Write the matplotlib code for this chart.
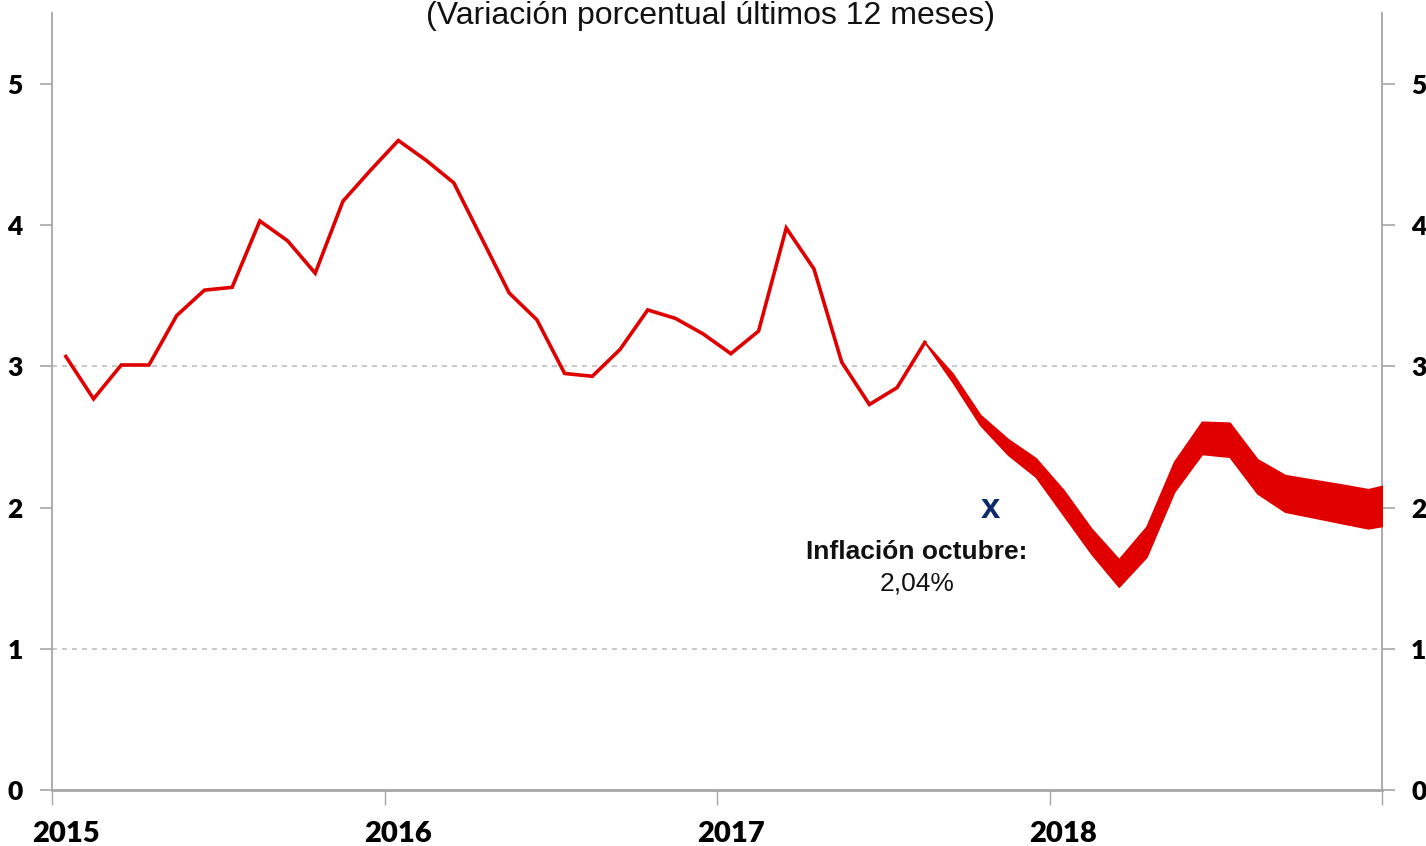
import matplotlib
matplotlib.use("Agg")
import matplotlib.pyplot as plt
import numpy as np

# ---- data ----
title = "(Variación porcentual últimos 12 meses)"
year_labels = ["2015", "2016", "2017", "2018"]
year_ticks = [2015, 2016, 2017, 2018, 2019]
y_ticks = [0, 1, 2, 3, 4, 5]

# observed inflation, Jan 2015 .. Aug 2017 (12-month % change)
hist_values = [3.07, 2.77, 3.01, 3.01, 3.36, 3.54, 3.56, 4.03, 3.89, 3.66, 4.17, 4.39,
               4.60, 4.46, 4.30, 3.91, 3.52, 3.33, 2.95, 2.93, 3.12, 3.40, 3.34, 3.23,
               3.09, 3.25, 3.98, 3.69, 3.03, 2.73, 2.85, 3.17]
# projection band, Aug 2017 .. Jan 2019
band_upper = [3.17, 2.95, 2.656, 2.485, 2.35, 2.125, 1.853, 1.634, 1.865, 2.325, 2.608, 2.601,
              2.342, 2.23, 2.197, 2.165, 2.13, 2.176]
band_lower = [3.17, 2.89, 2.585, 2.375, 2.219, 1.948, 1.676, 1.44, 1.652, 2.113, 2.38, 2.36,
              2.101, 1.971, 1.932, 1.892, 1.853, 1.887]

annot_title = "Inflación octubre:"
annot_value = "2,04%"

# ---- positions (mid-month) ----
hist_x = 2015 + (np.arange(len(hist_values)) + 0.5) / 12
band_x = 2015 + (np.arange(len(hist_values) - 1, len(hist_values) - 1 + len(band_upper)) + 0.5) / 12

RED = "#E00000"
GREY = "#A6A6A6"

fig = plt.figure(figsize=(14.26, 8.46), dpi=100)
W, H = 1426, 846
ax = fig.add_axes([52 / W, (H - 790) / H, 1330 / W, (790 - 13.4) / H])

ax.plot(hist_x, hist_values, color=RED, lw=2.6, solid_joinstyle="miter", zorder=3)
ax.fill_between(band_x, band_lower, band_upper, facecolor=RED, edgecolor=RED, lw=1.2, zorder=3)

ax.set_xlim(2015, 2019)
ax.set_ylim(0, 5.5)

# grid lines at 1 and 3
for g in (1, 3):
    ax.axhline(g, color="#BFBFBF", lw=1.2, ls=(0, (3, 3)), zorder=1)

ax.spines["top"].set_visible(False)
for s in ("left", "right"):
    ax.spines[s].set_color(GREY)
    ax.spines[s].set_linewidth(1.3)
ax.spines["bottom"].set_color(GREY)
ax.spines["bottom"].set_linewidth(2.0)

ax.set_yticks(y_ticks)
ax.set_yticklabels([str(v) for v in y_ticks])
ax.tick_params(axis="y", which="major", left=True, right=True, labelleft=True, labelright=True,
               direction="out", length=9, width=1.2, color=GREY, pad=12,
               labelsize=19)
for lab in ax.get_yticklabels():
    lab.set_fontfamily("Lato")
    lab.set_fontweight("heavy")

ax.set_xticks(year_ticks)
ax.set_xticklabels([])
ax.tick_params(axis="x", which="major", direction="out", length=11, width=1.0, color=GREY)
ax.set_xticks([y + 0.5 / 12 for y in year_ticks[:-1]], minor=True)
ax.set_xticklabels(year_labels, minor=True)
ax.tick_params(axis="x", which="minor", length=0, pad=22, labelsize=21)
for lab in ax.get_xticklabels(minor=True):
    lab.set_fontfamily("Lato")
    lab.set_fontweight("heavy")

# title
fig.text(710 / W, 1 - 16 / H, title, ha="center", va="center", fontsize=23,
         family="Liberation Sans", color="#111111")

# annotations
ax.text(2015 + (990 - 52) / 332.5, (790 - 509) / 141.2, "x", ha="center", va="center",
        fontsize=25, fontweight="bold", color="#0D2B6B", family="Liberation Sans")
ax.text(2015 + (917 - 52) / 332.5, (790 - 552) / 141.2, annot_title, ha="center", va="center",
        fontsize=19, fontweight="bold", color="#111111", family="Liberation Sans")
ax.text(2015 + (917 - 52) / 332.5, (790 - 584) / 141.2, annot_value, ha="center", va="center",
        fontsize=19, color="#111111", family="Liberation Sans")

fig.savefig("out.png", dpi=100)
